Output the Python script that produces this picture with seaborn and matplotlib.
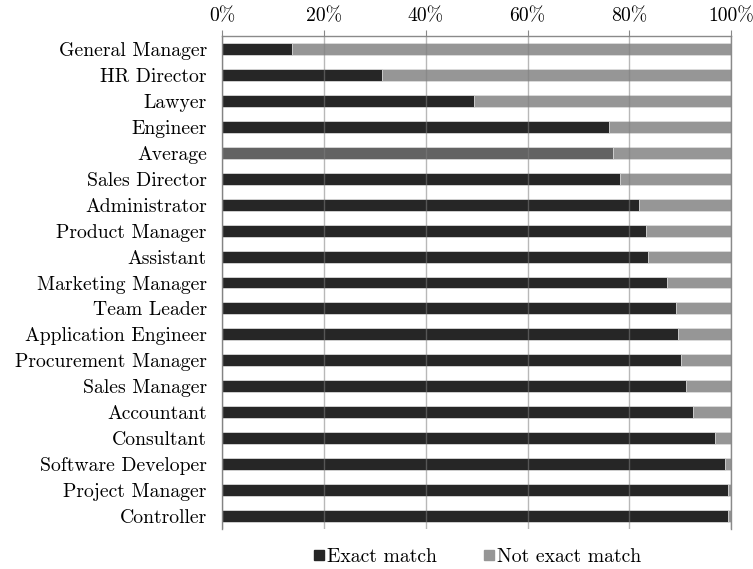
import matplotlib
matplotlib.use("Agg")
import matplotlib.pyplot as plt
from matplotlib.lines import Line2D
from matplotlib.ticker import FixedLocator
import seaborn as sns
import pandas as pd

# data (percent)
roles = ["General Manager", "HR Director", "Lawyer", "Engineer", "Average",
         "Sales Director", "Administrator", "Product Manager", "Assistant",
         "Marketing Manager", "Team Leader", "Application Engineer",
         "Procurement Manager", "Sales Manager", "Accountant", "Consultant",
         "Software Developer", "Project Manager", "Controller"]
exact = [13.7, 31.5, 49.4, 76.0, 76.8, 78.1, 81.8, 83.2, 83.6, 87.3,
         89.1, 89.5, 90.1, 91.1, 92.5, 96.9, 98.8, 99.4, 99.4]
not_exact = [100 - v for v in exact]
xticks = [0, 20, 40, 60, 80, 100]
xticklabels = ["0%", "20%", "40%", "60%", "80%", "100%"]

dark = "#262626"
light = "#969696"
avg = "#636363"

df = pd.DataFrame({"role": roles, "exact": exact, "not_exact": not_exact})
df["total"] = df["exact"] + df["not_exact"]

sns.set_style("white")
plt.rcParams["font.family"] = ["cmr10", "DejaVu Serif"]
plt.rcParams["axes.formatter.use_mathtext"] = True
plt.rcParams["text.color"] = "black"
plt.rcParams["xtick.color"] = "black"
plt.rcParams["ytick.color"] = "black"

fs = 14.2

fig, ax = plt.subplots(figsize=(7.53, 5.69), dpi=100)
fig.subplots_adjust(left=0.295, right=0.971, top=0.936, bottom=0.071)

# stacked: full bar in light gray, exact part drawn over it
sns.barplot(data=df, y="role", x="total", color=light, width=0.46,
            edgecolor="#dcdcdc", linewidth=0.6, ax=ax, orient="h")
pal = {r: (avg if r == "Average" else dark) for r in roles}
sns.barplot(data=df, y="role", x="exact", hue="role", palette=pal, width=0.46,
            edgecolor="#dcdcdc", linewidth=0.6, ax=ax, orient="h", legend=False)

ax.set_xlim(0, 100)
ax.set_ylim(len(roles) - 0.5, -0.5)
ax.xaxis.tick_top()
ax.set_xticks(xticks)
ax.set_xticklabels(xticklabels, fontsize=fs)
ax.tick_params(axis="x", which="major", length=4, color="#888888", pad=4, direction="out")
ax.tick_params(axis="y", which="major", length=0, labelsize=fs, pad=11)
ax.yaxis.set_minor_locator(FixedLocator([i - 0.5 for i in range(len(roles) + 1)]))
ax.tick_params(axis="y", which="minor", length=4, color="#999999", direction="out")
ax.set_xlabel("")
ax.set_ylabel("")

ax.grid(axis="x", color="#7f7f7f", alpha=0.55, linewidth=1)
ax.set_axisbelow(False)
ax.spines["bottom"].set_visible(False)
for s in ["top", "left", "right"]:
    ax.spines[s].set_color("#8a8a8a")
    ax.spines[s].set_linewidth(1)

handles = [Line2D([], [], marker="s", linestyle="", color=dark, markersize=7.5),
           Line2D([], [], marker="s", linestyle="", color=light, markersize=7.5)]
ax.legend(handles, ["Exact match", "Not exact match"], loc="center",
          bbox_to_anchor=(0.5, -0.057), ncol=2, frameon=False, fontsize=fs,
          handletextpad=0.05, columnspacing=2.3, handlelength=0.7,
          borderpad=0, borderaxespad=0)

plt.savefig("out.png", dpi=100)
